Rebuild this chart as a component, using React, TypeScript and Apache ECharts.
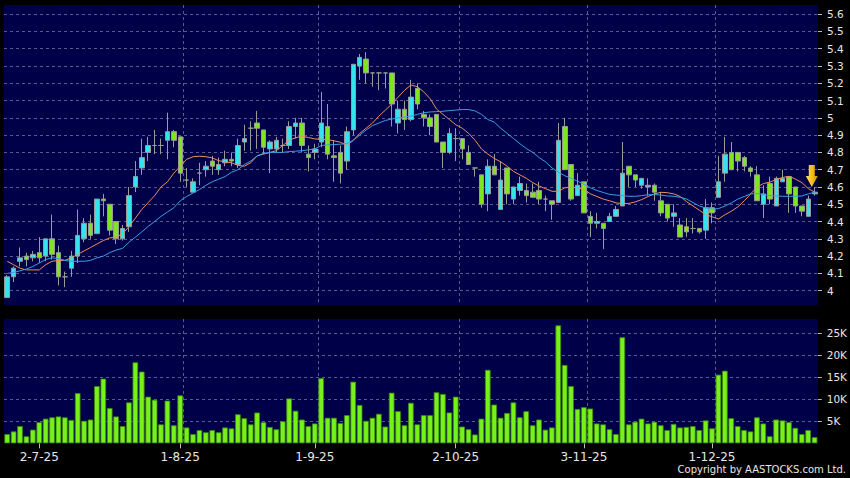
import React, { useEffect, useRef } from "react";
import * as echarts from "echarts";

const dates = (
  "24-6-25 25-6-25 26-6-25 27-6-25 30-6-25 " +
  "2-7-25 3-7-25 4-7-25 7-7-25 8-7-25 9-7-25 10-7-25 11-7-25 14-7-25 15-7-25 16-7-25 17-7-25 18-7-25 21-7-25 22-7-25 23-7-25 24-7-25 25-7-25 28-7-25 29-7-25 30-7-25 31-7-25 " +
  "1-8-25 4-8-25 5-8-25 6-8-25 7-8-25 8-8-25 11-8-25 12-8-25 13-8-25 14-8-25 15-8-25 18-8-25 19-8-25 20-8-25 21-8-25 22-8-25 25-8-25 26-8-25 27-8-25 28-8-25 29-8-25 " +
  "1-9-25 2-9-25 3-9-25 4-9-25 5-9-25 8-9-25 9-9-25 10-9-25 11-9-25 12-9-25 15-9-25 16-9-25 17-9-25 18-9-25 19-9-25 22-9-25 23-9-25 24-9-25 25-9-25 26-9-25 29-9-25 30-9-25 " +
  "2-10-25 3-10-25 6-10-25 8-10-25 9-10-25 10-10-25 13-10-25 14-10-25 15-10-25 16-10-25 17-10-25 20-10-25 21-10-25 22-10-25 23-10-25 24-10-25 27-10-25 28-10-25 30-10-25 31-10-25 " +
  "3-11-25 4-11-25 5-11-25 6-11-25 7-11-25 10-11-25 11-11-25 12-11-25 13-11-25 14-11-25 17-11-25 18-11-25 19-11-25 20-11-25 21-11-25 24-11-25 25-11-25 26-11-25 27-11-25 28-11-25 " +
  "1-12-25 2-12-25 3-12-25 4-12-25 5-12-25 8-12-25 9-12-25 10-12-25 11-12-25 12-12-25 15-12-25 16-12-25 17-12-25 18-12-25 19-12-25 22-12-25 23-12-25"
).split(" ");

const tickLabels = ["2-7-25", "1-8-25", "1-9-25", "2-10-25", "3-11-25", "1-12-25"];

const opens = [
  3.96, 4.08, 4.17, 4.2, 4.19, 4.22, 4.2, 4.3, 4.22, 4.08,
  4.13, 4.2, 4.3, 4.39, 4.33, 4.53, 4.5, 4.4, 4.3, 4.37,
  4.6, 4.71, 4.8, 4.84, 4.84, 4.87, 4.92, 4.89, 4.64, 4.57,
  4.68, 4.7, 4.75, 4.7, 4.74, 4.76, 4.73, 4.86, 4.94, 4.97,
  4.93, 4.82, 4.82, 4.84, 4.84, 4.95, 4.97, 4.79, 4.8, 4.86,
  4.95, 4.78, 4.8, 4.75, 4.93, 5.3, 5.34, 5.26, 5.26, 5.26,
  5.26, 4.97, 5.05, 4.99, 5.17, 5.02, 5.0, 5.02, 4.86, 4.8,
  4.88, 4.88, 4.8, 4.71, 4.67, 4.56, 4.72, 4.47, 4.71, 4.53,
  4.58, 4.58, 4.57, 4.58, 4.53, 4.52, 4.51, 4.95, 4.73, 4.55,
  4.63, 4.43, 4.39, 4.39, 4.4, 4.43, 4.49, 4.72, 4.67, 4.61,
  4.6, 4.61, 4.52, 4.5, 4.43, 4.38, 4.37, 4.36, 4.36, 4.35,
  4.48, 4.54, 4.68, 4.8, 4.8, 4.77, 4.71, 4.67, 4.5, 4.62,
  4.49, 4.63, 4.66, 4.6, 4.49, 4.43, 4.56,
];
const closes = [
  4.08, 4.13, 4.19, 4.18, 4.21, 4.19, 4.3, 4.21, 4.08, 4.08,
  4.2, 4.32, 4.39, 4.32, 4.53, 4.52, 4.35, 4.3, 4.36, 4.55,
  4.66, 4.77, 4.84, 4.84, 4.84, 4.92, 4.87, 4.68, 4.64, 4.63,
  4.68, 4.72, 4.72, 4.73, 4.76, 4.75, 4.84, 4.88, 4.94, 4.94,
  4.83, 4.86, 4.87, 4.84, 4.95, 4.97, 4.84, 4.77, 4.82, 4.97,
  4.79, 4.77, 4.68, 4.92, 5.31, 5.35, 5.26, 5.26, 5.26, 5.26,
  5.08, 5.05, 4.99, 5.12, 5.08, 5.0, 4.95, 4.86, 4.8, 4.91,
  4.88, 4.82, 4.73, 4.71, 4.5, 4.72, 4.67, 4.64, 4.56, 4.6,
  4.62, 4.55, 4.54, 4.53, 4.53, 4.5, 4.87, 4.7, 4.53, 4.61,
  4.45, 4.39, 4.4, 4.36, 4.43, 4.47, 4.68, 4.67, 4.64, 4.65,
  4.61, 4.57, 4.45, 4.42, 4.45, 4.31, 4.34, 4.36, 4.34, 4.48,
  4.45, 4.63, 4.79, 4.7, 4.75, 4.72, 4.69, 4.52, 4.56, 4.53,
  4.65, 4.65, 4.56, 4.49, 4.46, 4.53, 4.57,
];
const lows = [
  3.96, 4.05, 4.14, 4.14, 4.17, 4.16, 4.17, 4.18, 4.03, 4.02,
  4.08, 4.16, 4.28, 4.3, 4.33, 4.43, 4.32, 4.27, 4.29, 4.34,
  4.57, 4.67, 4.75, 4.79, 4.79, 4.76, 4.83, 4.63, 4.6, 4.57,
  4.61, 4.66, 4.67, 4.67, 4.72, 4.72, 4.71, 4.81, 4.81, 4.82,
  4.79, 4.68, 4.8, 4.8, 4.82, 4.88, 4.8, 4.69, 4.76, 4.83,
  4.76, 4.63, 4.62, 4.7, 4.9, 5.22, 5.2, 5.18, 5.16, 5.17,
  4.95, 4.91, 4.93, 4.98, 5.05, 4.95, 4.9, 4.86, 4.71, 4.79,
  4.75, 4.76, 4.73, 4.66, 4.48, 4.46, 4.67, 4.47, 4.5, 4.5,
  4.55, 4.51, 4.54, 4.5, 4.46, 4.41, 4.51, 4.7, 4.52, 4.55,
  4.45, 4.31, 4.36, 4.24, 4.4, 4.43, 4.49, 4.6, 4.6, 4.59,
  4.55, 4.52, 4.43, 4.4, 4.37, 4.31, 4.31, 4.33, 4.33, 4.3,
  4.39, 4.54, 4.63, 4.7, 4.69, 4.69, 4.66, 4.52, 4.42, 4.5,
  4.49, 4.63, 4.45, 4.45, 4.43, 4.43, 4.55,
];
const highs = [
  4.09, 4.14, 4.25, 4.22, 4.23, 4.31, 4.3, 4.44, 4.26, 4.11,
  4.23, 4.47, 4.42, 4.44, 4.53, 4.56, 4.5, 4.4, 4.38, 4.6,
  4.75, 4.88, 4.89, 4.93, 4.88, 5.03, 4.93, 4.89, 4.71, 4.65,
  4.74, 4.75, 4.78, 4.77, 4.81, 4.8, 4.88, 4.96, 4.98, 5.04,
  4.93, 4.87, 4.89, 4.88, 4.98, 5.0, 5.0, 4.84, 4.85, 5.15,
  5.08, 4.87, 4.84, 4.95, 5.31, 5.37, 5.38, 5.26, 5.26, 5.26,
  5.26, 5.1, 5.1, 5.22, 5.2, 5.04, 5.02, 5.02, 4.86, 4.94,
  4.94, 4.88, 4.84, 4.71, 4.67, 4.76, 4.79, 4.75, 4.71, 4.6,
  4.66, 4.62, 4.62, 4.63, 4.55, 4.52, 4.97, 5.0, 4.73, 4.68,
  4.63, 4.46, 4.45, 4.39, 4.45, 4.49, 4.86, 4.72, 4.67, 4.65,
  4.65, 4.62, 4.57, 4.5, 4.5, 4.42, 4.42, 4.42, 4.36, 4.53,
  4.51, 4.78, 4.89, 4.86, 4.8, 4.78, 4.72, 4.72, 4.61, 4.66,
  4.66, 4.7, 4.66, 4.6, 4.49, 4.55, 4.6,
];
// volume in thousands of shares
const volumes = [
  2.1, 2.7, 3.9, 1.6, 3.1, 4.8, 5.6, 5.9, 6.1, 5.9,
  5.3, 11.4, 5.1, 5.4, 13.0, 14.7, 8.0, 6.1, 3.9, 9.3,
  18.4, 16.3, 10.6, 9.9, 4.3, 9.7, 4.1, 10.9, 3.6, 2.1,
  3.0, 2.5, 3.0, 2.5, 3.6, 3.4, 6.6, 5.7, 4.3, 7.0,
  4.8, 3.7, 3.2, 5.0, 10.2, 7.4, 5.4, 3.9, 4.5, 14.8,
  5.8, 5.8, 4.6, 6.4, 14.0, 8.7, 5.1, 5.8, 6.7, 3.8,
  11.5, 7.3, 4.1, 9.2, 4.3, 6.4, 6.4, 11.6, 11.2, 7.0,
  10.6, 3.8, 3.2, 2.0, 5.6, 16.7, 8.8, 5.8, 6.9, 9.3,
  5.9, 7.3, 4.1, 5.4, 3.1, 3.6, 26.8, 17.8, 13.0, 7.8,
  8.2, 7.9, 4.5, 4.3, 3.2, 2.1, 24.1, 4.3, 4.9, 5.6,
  4.5, 4.9, 4.1, 3.0, 4.4, 3.6, 3.7, 3.9, 3.0, 5.2,
  3.4, 15.6, 16.5, 5.7, 3.9, 3.0, 2.7, 5.9, 4.5, 1.6,
  5.4, 5.2, 4.8, 3.5, 2.1, 3.0, 1.4,
];
const maOrange = [
  4.17, 4.15, 4.13, 4.12, 4.12, 4.12, 4.15, 4.17, 4.175, 4.175,
  4.19, 4.21, 4.23, 4.25, 4.27, 4.29, 4.305, 4.31, 4.33, 4.37,
  4.42, 4.47, 4.51, 4.55, 4.6, 4.63, 4.68, 4.72, 4.76, 4.775,
  4.778, 4.775, 4.768, 4.752, 4.745, 4.74, 4.725, 4.72, 4.74, 4.78,
  4.79, 4.8, 4.81, 4.84, 4.87, 4.885, 4.894, 4.886, 4.878, 4.876,
  4.874, 4.867, 4.859, 4.84, 4.87, 4.91, 4.94, 4.97, 5.01, 5.045,
  5.08, 5.12, 5.16, 5.19, 5.18, 5.15, 5.11, 5.05, 5.02, 4.99,
  4.96, 4.94, 4.91, 4.87, 4.82, 4.79, 4.765, 4.745, 4.72, 4.69,
  4.67, 4.65, 4.625, 4.605, 4.59, 4.575, 4.575, 4.595, 4.6, 4.595,
  4.585, 4.56, 4.545, 4.53, 4.52, 4.508, 4.503, 4.505, 4.514, 4.527,
  4.545, 4.56, 4.569, 4.567, 4.56, 4.545, 4.515, 4.49, 4.465, 4.44,
  4.427, 4.415, 4.44, 4.46, 4.485, 4.52, 4.56, 4.6, 4.62, 4.628,
  4.643, 4.655, 4.662, 4.645, 4.625, 4.59, 4.57,
];
const maBlue = [
  4.1, 4.105, 4.115, 4.125, 4.14, 4.16, 4.18, 4.19, 4.185, 4.175,
  4.17, 4.17, 4.17, 4.175, 4.19, 4.2, 4.22, 4.235, 4.245, 4.28,
  4.31, 4.34, 4.372, 4.4, 4.43, 4.455, 4.48, 4.52, 4.545, 4.565,
  4.585, 4.61, 4.63, 4.645, 4.66, 4.685, 4.7, 4.73, 4.75, 4.78,
  4.795, 4.8, 4.8, 4.8, 4.805, 4.807, 4.81, 4.815, 4.82, 4.84,
  4.843, 4.845, 4.848, 4.851, 4.87, 4.9, 4.93, 4.955, 4.97, 4.985,
  4.993, 5.0, 5.005, 5.01, 5.02, 5.03, 5.034, 5.036, 5.038, 5.042,
  5.045, 5.048, 5.048, 5.04, 5.02, 4.99, 4.975, 4.94, 4.91, 4.88,
  4.85, 4.822, 4.8, 4.77, 4.745, 4.71, 4.685, 4.665, 4.65, 4.633,
  4.615, 4.595, 4.58, 4.568, 4.557, 4.553, 4.55, 4.546, 4.546, 4.55,
  4.555, 4.556, 4.553, 4.548, 4.546, 4.54, 4.53, 4.51, 4.49, 4.478,
  4.472, 4.475, 4.49, 4.508, 4.53, 4.545, 4.56, 4.562, 4.556, 4.55,
  4.548, 4.546, 4.546, 4.546, 4.548, 4.56, 4.57,
];
const arrowPrice = 4.6;

const NAVY = "#000048";
const GRID_LINE = "#5a5a8c";
const TEXT = "#e6e6e6";
const CYAN = "#33e3ef";
const GREEN = "#7fe61e";
const CANDLE_BORDER = "#9a9a9a";
const VOL = "#78f01a";
const VOL_BORDER = "#3a8a12";
const ORANGE = "#e8905e";
const BLUE = "#3c9ee0";
const FONT = "DejaVu Sans";

export default function App() {
  const ref = useRef<HTMLDivElement>(null);

  useEffect(() => {
    if (!ref.current) return;
    const chart = echarts.init(ref.current, undefined, { renderer: "svg" });

    const ohlc = opens.map((o, i) => [o, closes[i], lows[i], highs[i]]);
    const labelInterval = (_i: number, v: string) => tickLabels.includes(v);
    const splitInterval = (i: number) => i > 0 && tickLabels.includes(dates[i - 1]);
    const splitLine = {
      show: true,
      interval: splitInterval,
      showMinLine: false,
      showMaxLine: false,
      lineStyle: { color: GRID_LINE, type: [3, 3], width: 1 },
    };
    const hSplit = {
      show: true,
      showMinLine: false,
      showMaxLine: false,
      lineStyle: { color: GRID_LINE, type: [3, 3], width: 1 },
    };

    chart.setOption({
      animation: false,
      backgroundColor: "#000000",
      textStyle: { fontFamily: FONT },
      grid: [
        { left: 4, right: 32, top: 5, height: 300, show: true, backgroundColor: NAVY, borderWidth: 0 },
        { left: 4, right: 32, top: 319, height: 124.3, show: true, backgroundColor: NAVY, borderWidth: 0 },
      ],
      xAxis: [
        {
          type: "category",
          gridIndex: 0,
          data: dates,
          boundaryGap: true,
          axisLine: { show: false },
          axisTick: { show: false },
          axisLabel: { show: false },
          splitLine,
        },
        {
          type: "category",
          gridIndex: 1,
          data: dates,
          boundaryGap: true,
          axisLine: { show: false },
          axisTick: {
            show: true,
            alignWithLabel: true,
            interval: labelInterval,
            length: 5,
            lineStyle: { color: "#bbbbbb" },
          },
          axisLabel: {
            interval: labelInterval,
            color: TEXT,
            fontSize: 12,
            fontFamily: FONT,
            margin: 8,
          },
          splitLine,
        },
      ],
      yAxis: [
        {
          type: "value",
          gridIndex: 0,
          position: "right",
          min: 3.917,
          max: 5.653,
          minInterval: 0.1,
          maxInterval: 0.1,
          axisLine: { show: false },
          axisTick: { show: true, length: 4, lineStyle: { color: "#bbbbbb" } },
          axisLabel: {
            color: TEXT,
            fontSize: 10.5,
            fontFamily: FONT,
            margin: 9,
            showMinLabel: false,
            showMaxLabel: false,
            formatter: (v: number) => String(Math.round(v * 10) / 10),
          },
          splitLine: hSplit,
        },
        {
          type: "value",
          gridIndex: 1,
          position: "right",
          min: 0,
          max: 28.25,
          minInterval: 5,
          maxInterval: 5,
          axisLine: { show: false },
          axisTick: { show: true, length: 4, lineStyle: { color: "#bbbbbb" } },
          axisLabel: {
            color: TEXT,
            fontSize: 10.5,
            fontFamily: FONT,
            margin: 9,
            showMinLabel: false,
            showMaxLabel: false,
            formatter: (v: number) => (v === 0 ? "" : `${Math.round(v)}K`),
          },
          splitLine: hSplit,
        },
      ],
      series: [
        {
          type: "candlestick",
          xAxisIndex: 0,
          yAxisIndex: 0,
          data: ohlc,
          barWidth: 5,
          z: 2,
          itemStyle: {
            color: CYAN,
            color0: GREEN,
            borderColor: CANDLE_BORDER,
            borderColor0: CANDLE_BORDER,
            borderColorDoji: CANDLE_BORDER,
            borderWidth: 1,
          },
          markPoint: {
            silent: true,
            symbol: "path://M3,0 L9,0 L9,11 L12,11 L6,22 L0,11 L3,11 Z",
            symbolSize: [12, 22],
            symbolOffset: [-3, "-50%"],
            label: { show: false },
            itemStyle: {
              color: new echarts.graphic.LinearGradient(0, 0, 1, 0, [
                { offset: 0, color: "#ffe066" },
                { offset: 0.5, color: "#f6c21a" },
                { offset: 1, color: "#c98f00" },
              ]),
            },
            data: [{ coord: [dates.length - 1, arrowPrice] }],
          },
        },
        {
          type: "line",
          xAxisIndex: 0,
          yAxisIndex: 0,
          data: maOrange,
          showSymbol: false,
          z: 3,
          lineStyle: { color: ORANGE, width: 1 },
        },
        {
          type: "line",
          xAxisIndex: 0,
          yAxisIndex: 0,
          data: maBlue,
          showSymbol: false,
          z: 3,
          lineStyle: { color: BLUE, width: 1 },
        },
        {
          type: "bar",
          xAxisIndex: 1,
          yAxisIndex: 1,
          data: volumes,
          barWidth: 5.6,
          itemStyle: { color: VOL, borderColor: VOL_BORDER, borderWidth: 0.8 },
        },
      ],
      graphic: [
        {
          type: "text",
          right: 4,
          top: 464,
          style: {
            text: "Copyright by AASTOCKS.com Ltd.",
            fill: TEXT,
            font: `10px ${FONT}`,
          },
        },
      ],
    });

    return () => chart.dispose();
  }, []);

  return (
    <div
      ref={ref}
      style={{ position: "fixed", left: 0, top: 0, width: 850, height: 478, background: "#000" }}
    />
  );
}
